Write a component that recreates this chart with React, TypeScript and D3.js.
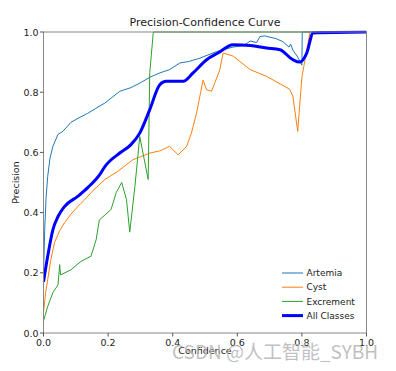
import React from 'react';
import * as d3 from 'd3';

// confidence / precision points
const artemiaConf = [0, 0.004, 0.008, 0.013, 0.02, 0.029, 0.045, 0.06, 0.085, 0.11, 0.137, 0.16, 0.19, 0.236, 0.27, 0.298, 0.33, 0.36, 0.39, 0.422, 0.45, 0.484, 0.536, 0.587, 0.62, 0.64, 0.66, 0.67, 0.685, 0.72, 0.741, 0.76, 0.765, 0.772, 0.785, 0.8, 0.801, 1.0];
const artemiaPrec = [0.2, 0.35, 0.45, 0.52, 0.58, 0.62, 0.66, 0.67, 0.7, 0.715, 0.73, 0.745, 0.764, 0.803, 0.815, 0.83, 0.85, 0.864, 0.875, 0.897, 0.902, 0.913, 0.935, 0.95, 0.955, 0.97, 0.965, 0.985, 0.987, 0.978, 0.968, 0.95, 0.96, 0.94, 0.92, 0.89, 1.0, 1.0];

const cystConf = [0, 0.006, 0.013, 0.022, 0.034, 0.05, 0.065, 0.085, 0.106, 0.125, 0.147, 0.17, 0.19, 0.23, 0.277, 0.33, 0.36, 0.39, 0.417, 0.443, 0.458, 0.474, 0.484, 0.494, 0.505, 0.52, 0.53, 0.546, 0.556, 0.587, 0.64, 0.69, 0.762, 0.772, 0.787, 0.8, 0.825, 1.0];
const cystPrec = [0.067, 0.13, 0.177, 0.24, 0.3, 0.34, 0.366, 0.395, 0.42, 0.44, 0.466, 0.49, 0.51, 0.537, 0.576, 0.598, 0.605, 0.62, 0.592, 0.62, 0.664, 0.731, 0.786, 0.84, 0.808, 0.803, 0.83, 0.875, 0.93, 0.92, 0.875, 0.853, 0.81, 0.787, 0.67, 0.85, 1.0, 1.0];

const excrementConf = [0, 0.013, 0.029, 0.045, 0.05, 0.053, 0.085, 0.116, 0.147, 0.163, 0.173, 0.209, 0.225, 0.242, 0.257, 0.267, 0.283, 0.298, 0.324, 0.329, 0.34, 1.0];
const excrementPrec = [0.04, 0.088, 0.134, 0.16, 0.227, 0.193, 0.21, 0.238, 0.255, 0.31, 0.376, 0.41, 0.466, 0.5, 0.443, 0.335, 0.487, 0.653, 0.51, 0.865, 1.0, 1.0];

const allConf = [0, 0.013, 0.029, 0.045, 0.065, 0.106, 0.137, 0.174, 0.19, 0.236, 0.27, 0.298, 0.329, 0.36, 0.38, 0.432, 0.463, 0.505, 0.54, 0.587, 0.64, 0.69, 0.732, 0.772, 0.793, 0.815, 0.835, 1.0];
const allPrec = [0.17, 0.255, 0.343, 0.387, 0.42, 0.454, 0.483, 0.526, 0.553, 0.598, 0.625, 0.664, 0.742, 0.825, 0.836, 0.836, 0.864, 0.908, 0.93, 0.958, 0.955, 0.947, 0.941, 0.908, 0.9, 0.93, 0.997, 1.0];

const seriesNames = ['Artemia', 'Cyst', 'Excrement', 'All Classes'];
const seriesColors = ['#1f77b4', '#ff7f0e', '#2ca02c', '#0000ff'];
const tickValues = [0, 0.2, 0.4, 0.6, 0.8, 1.0];

const W = 396, H = 371;
const m = { left: 43.5, right: 29.5, top: 32, bottom: 38 };

const App: React.FC = () => {
  const x = d3.scaleLinear().domain([0, 1]).range([m.left, W - m.right]);
  const y = d3.scaleLinear().domain([0, 1]).range([H - m.bottom, m.top]);
  const line = d3.line<[number, number]>().x(d => x(d[0])).y(d => y(d[1]));
  // the mean curve is smoothed in the original, so draw it with a monotone curve
  const smooth = d3.line<[number, number]>().x(d => x(d[0])).y(d => y(d[1])).curve(d3.curveMonotoneX);

  const series = [
    { c: artemiaConf, p: artemiaPrec, w: 1 },
    { c: cystConf, p: cystPrec, w: 1 },
    { c: excrementConf, p: excrementPrec, w: 1 },
    { c: allConf, p: allPrec, w: 3 },
  ];

  const font = "'DejaVu Sans', sans-serif";

  return (
    <div style={{ position: 'fixed', left: 0, top: 0 }}>
      <svg width={W} height={H} style={{ display: 'block', background: '#fff' }} fontFamily={font}>
        <defs>
          <clipPath id="plot">
            <rect x={m.left} y={m.top - 1.5} width={W - m.left - m.right} height={H - m.top - m.bottom + 1.5} />
          </clipPath>
        </defs>
        <text x={(m.left + W - m.right) / 2} y={26} textAnchor="middle" fontSize={11} fill="#222">Precision-Confidence Curve</text>

        <g clipPath="url(#plot)">
          {series.map((s, i) => {
            const pts = s.c.map((c, j) => [c, s.p[j]] as [number, number]);
            return (
              <path key={i} d={(i === 3 ? smooth(pts) : line(pts)) || ''}
                fill="none" stroke={seriesColors[i]} strokeWidth={s.w} strokeLinejoin="round" />
            );
          })}
        </g>

        <rect x={m.left} y={m.top} width={W - m.left - m.right} height={H - m.top - m.bottom} fill="none" stroke="#888" strokeWidth={1} />

        {tickValues.map(t => (
          <g key={'x' + t}>
            <line x1={x(t)} x2={x(t)} y1={y(0)} y2={y(0) + 3.5} stroke="#555" />
            <text x={x(t)} y={y(0) + 13} textAnchor="middle" fontSize={9.5} fill="#222">{t.toFixed(1)}</text>
          </g>
        ))}
        {tickValues.map(t => (
          <g key={'y' + t}>
            <line x1={x(0) - 3.5} x2={x(0)} y1={y(t)} y2={y(t)} stroke="#555" />
            <text x={x(0) - 5} y={y(t) + 3.5} textAnchor="end" fontSize={9.5} fill="#222">{t.toFixed(1)}</text>
          </g>
        ))}

        <text x={(m.left + W - m.right) / 2} y={354} textAnchor="middle" fontSize={9.5} fill="#222">Confidence</text>
        <text transform={`translate(19,${(m.top + H - m.bottom) / 2}) rotate(-90)`} textAnchor="middle" fontSize={9.5} fill="#222">Precision</text>

        <g>
          {seriesNames.map((n, i) => (
            <g key={n} transform={`translate(282,${273 + i * 14.2})`}>
              <line x1={0} x2={21} y1={0} y2={0} stroke={seriesColors[i]} strokeWidth={i === 3 ? 3 : 1} />
              <text x={24.5} y={3.2} fontSize={9} fill="#222">{n}</text>
            </g>
          ))}
        </g>

        <text x={172} y={359} fontSize={19} fill="#b5b5b5" fillOpacity={0.85} fontFamily="'Noto Sans CJK SC', 'DejaVu Sans', sans-serif">CSDN @人工智能_SYBH</text>
      </svg>
    </div>
  );
};

export default App;
